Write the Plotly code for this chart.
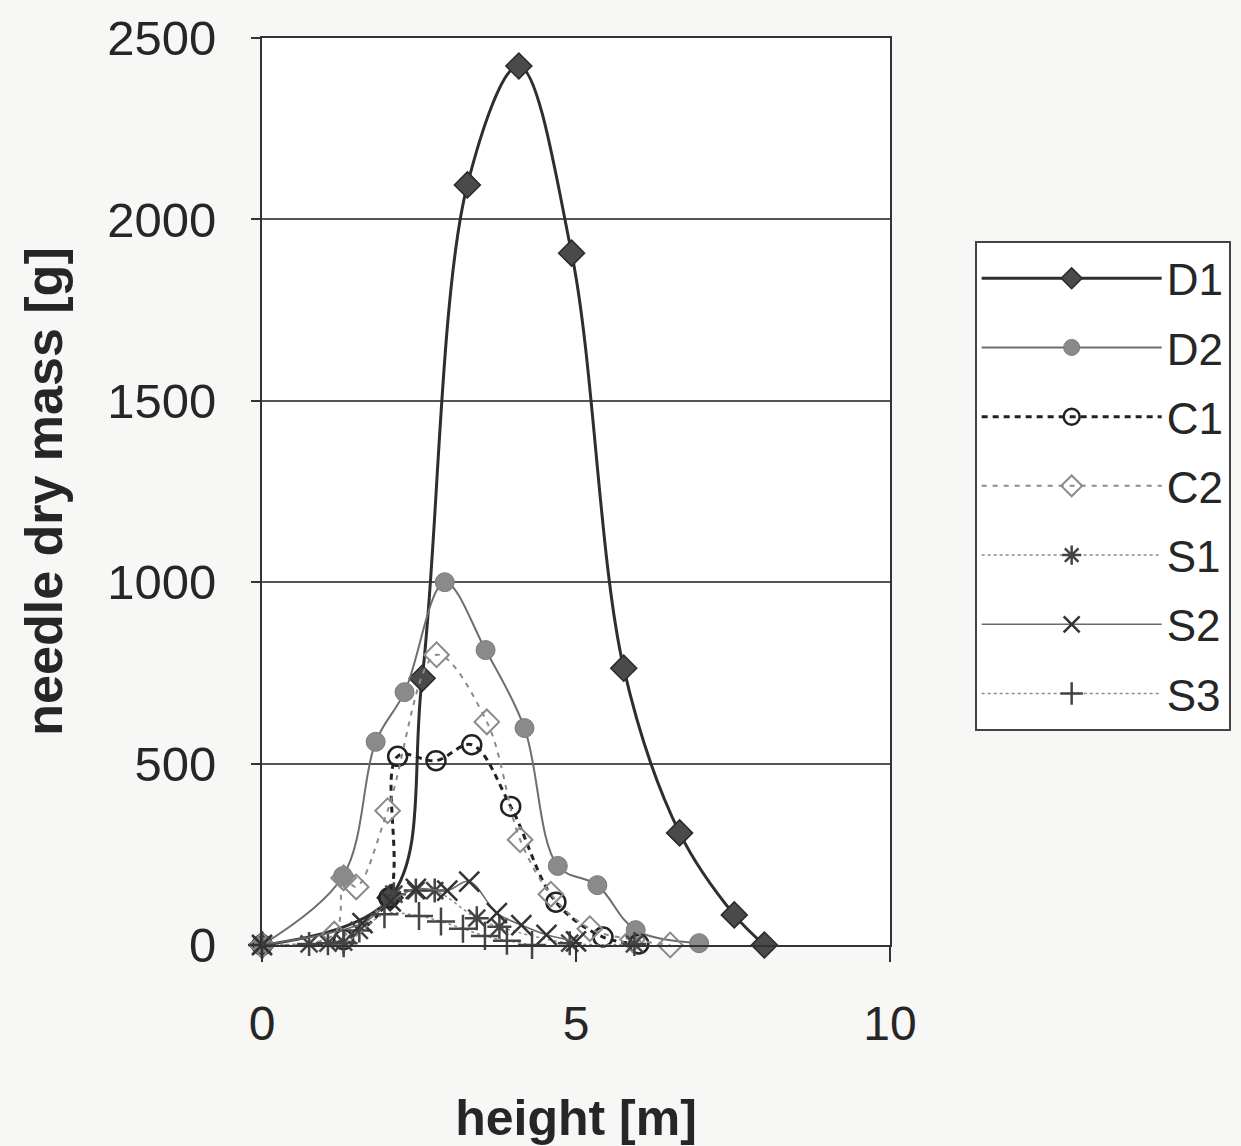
import plotly.graph_objects as go

# needle dry mass per crown height class, per tree
d1_h = [0, 2.04, 2.55, 3.27, 4.09, 4.93, 5.76, 6.65, 7.52, 8.0]
d1_m = [0, 130, 735, 2095, 2423, 1907, 763, 309, 83, 0]

d2_h = [0, 1.29, 1.81, 2.27, 2.91, 3.56, 4.18, 4.71, 5.34, 5.95, 6.96]
d2_m = [0, 190, 560, 697, 1000, 813, 598, 218, 165, 41, 5]

c1_h = [0, 1.3, 2.02, 2.16, 2.77, 3.34, 3.96, 4.68, 5.43, 6.0]
c1_m = [0, 15, 130, 520, 508, 552, 382, 118, 22, 3]

c2_h = [0, 1.15, 1.3, 1.5, 2.0, 2.78, 3.58, 4.11, 4.6, 5.22, 5.9, 6.5]
c2_m = [0, 30, 185, 160, 370, 800, 615, 290, 140, 45, 15, 0]

s1_h = [0, 0.75, 1.05, 1.3, 1.55, 2.1, 2.45, 2.75, 3.42, 3.78, 4.9, 5.93]
s1_m = [0, 3, 5, 8, 40, 140, 150, 150, 74, 50, 5, 3]

s2_h = [0, 1.6, 2.05, 2.45, 2.95, 3.3, 3.74, 4.13, 4.53, 5.0]
s2_m = [0, 60, 120, 155, 150, 175, 88, 55, 28, 10]

s3_h = [0, 1.3, 1.95, 2.5, 2.85, 3.2, 3.55, 3.9, 4.3]
s3_m = [0, 5, 85, 80, 65, 45, 25, 12, 0]

x_ticks = [0, 5, 10]
y_ticks = [0, 500, 1000, 1500, 2000, 2500]

FONT = "Liberation Sans, Arial, sans-serif"

series = [
    ("D1", d1_h, d1_m, dict(color="#2e2e2e", width=3, dash="solid"),
     dict(symbol="diamond", size=20, color="#4a4a4a", line=dict(color="#2a2a2a", width=1.5))),
    ("D2", d2_h, d2_m, dict(color="#6e6e6e", width=2, dash="solid"),
     dict(symbol="circle", size=19, color="#8a8a8a", line=dict(color="#7a7a7a", width=1))),
    ("C1", c1_h, c1_m, dict(color="#222222", width=3, dash="6px,5px"),
     dict(symbol="circle-open", size=19, color="#222222", line=dict(color="#222222", width=2.5))),
    ("C2", c2_h, c2_m, dict(color="#8a8a8a", width=2, dash="5px,6px"),
     dict(symbol="diamond-open", size=19, color="#8a8a8a", line=dict(color="#8a8a8a", width=2))),
    ("S1", s1_h, s1_m, dict(color="#8a8a8a", width=1.5, dash="dot"),
     dict(symbol="asterisk-open", size=20, color="#444444", line=dict(color="#444444", width=2.5))),
    ("S2", s2_h, s2_m, dict(color="#6a6a6a", width=1.5, dash="solid"),
     dict(symbol="x-thin-open", size=20, color="#333333", line=dict(color="#333333", width=2.5))),
    ("S3", s3_h, s3_m, dict(color="#8a8a8a", width=1.5, dash="dot"),
     dict(symbol="cross-thin-open", size=20, color="#444444", line=dict(color="#444444", width=2.5))),
]

fig = go.Figure()
for name, h, m, line, marker in series:
    fig.add_trace(go.Scatter(
        x=h, y=m, name=name, mode="lines+markers",
        line=dict(shape="spline", smoothing=1.0, **line),
        marker=marker, legendgroup=name, cliponaxis=False,
    ))

fig.update_layout(
    width=1241, height=1146,
    margin=dict(l=262, r=350, t=38, b=201),
    paper_bgcolor="#f7f7f5", plot_bgcolor="#ffffff",
    font=dict(family=FONT, color="#262626"),
    showlegend=True,
    legend=dict(
        x=1.133, y=0.776, xanchor="left", yanchor="top",
        bgcolor="#ffffff", bordercolor="#444444", borderwidth=2,
        font=dict(size=44, family=FONT, color="#262626"),
        itemwidth=180, tracegroupgap=9,
    ),
)

fig.update_xaxes(
    range=[0, 10], tickvals=x_ticks, ticks="outside", ticklen=15, tickwidth=2,
    tickcolor="#333333", showline=True, linecolor="#333333", linewidth=2,
    mirror=True, showgrid=False, zeroline=False, automargin=False,
    tickfont=dict(size=48, family=FONT), ticklabelstandoff=20,
    title=dict(text="<b>height [m]</b>", font=dict(size=50, family=FONT), standoff=53),
)
fig.update_yaxes(
    range=[0, 2500], tickvals=y_ticks, ticks="outside", ticklen=9, tickwidth=2,
    tickcolor="#333333", showline=True, linecolor="#333333", linewidth=2,
    mirror=True, showgrid=True, gridcolor="#555555", gridwidth=2, zeroline=False,
    automargin=False,
    tickfont=dict(size=49, family=FONT), ticklabelstandoff=25,
    title=dict(text="<b>needle dry mass [g]</b>", font=dict(size=52, family=FONT), standoff=28),
)

fig.write_html("out.html")
